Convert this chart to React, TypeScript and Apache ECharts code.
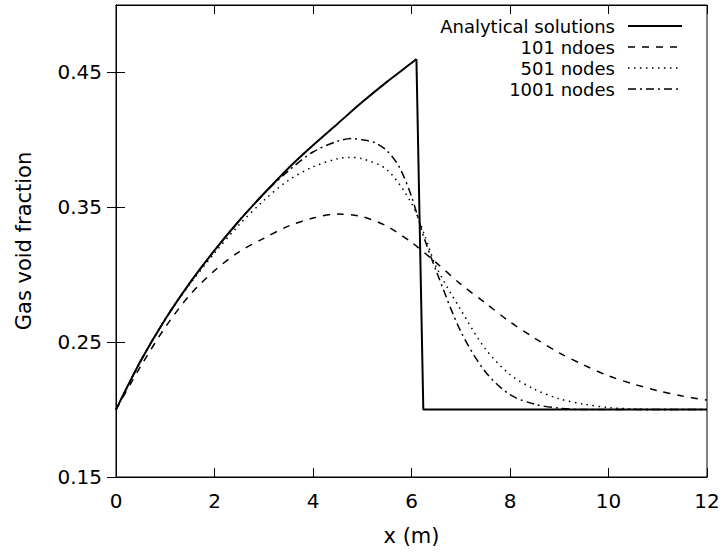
import React, { useEffect, useRef } from "react";
import * as echarts from "echarts";

const xTicks = [0, 2, 4, 6, 8, 10, 12];
const yTicks = [0.15, 0.25, 0.35, 0.45];

// Analytical solution: smooth rising branch, then the shock drop and the flat part
const anaX = [0, 0.5, 1, 1.5, 2, 2.5, 3, 3.5, 4, 4.5, 5, 5.5, 6, 6.1, 6.24, 12];
const anaY = [0.2, 0.236, 0.267, 0.294, 0.318, 0.34, 0.36, 0.379, 0.396, 0.412, 0.428, 0.443, 0.457, 0.46, 0.2, 0.2];
const anaSmoothCount = 14; // points of the smooth rising branch

const n101X = [0, 0.5, 1, 1.5, 2, 2.5, 3, 3.5, 4, 4.5, 5, 5.5, 6, 6.5, 7, 7.5, 8, 8.5, 9, 9.5, 10, 10.5, 11, 11.5, 12];
const n101Y = [0.2, 0.232, 0.261, 0.285, 0.303, 0.317, 0.327, 0.336, 0.342, 0.345, 0.343, 0.336, 0.324, 0.309, 0.293, 0.279, 0.265, 0.253, 0.242, 0.233, 0.225, 0.219, 0.214, 0.21, 0.207];

const n501X = [0, 0.5, 1, 1.5, 2, 2.5, 3, 3.5, 4, 4.5, 4.75, 5, 5.5, 6, 6.25, 6.5, 7, 7.5, 8, 8.5, 9, 9.5, 10, 10.5, 11, 12];
const n501Y = [0.2, 0.236, 0.267, 0.293, 0.316, 0.337, 0.355, 0.37, 0.38, 0.386, 0.387, 0.386, 0.378, 0.353, 0.331, 0.306, 0.274, 0.245, 0.226, 0.215, 0.208, 0.204, 0.2015, 0.2005, 0.2, 0.2];

const n1001X = [0, 0.5, 1, 1.5, 2, 2.5, 3, 3.5, 4, 4.5, 4.8, 5, 5.25, 5.5, 5.75, 6, 6.25, 6.5, 7, 7.5, 8, 8.5, 9, 9.5, 12];
const n1001Y = [0.2, 0.236, 0.267, 0.294, 0.318, 0.34, 0.36, 0.377, 0.391, 0.399, 0.401, 0.4, 0.398, 0.392, 0.38, 0.358, 0.328, 0.303, 0.258, 0.228, 0.211, 0.204, 0.201, 0.2, 0.2];

const legendNames = ["Analytical solutions", "101 ndoes", "501 nodes", "1001 nodes"];

const pairs = (xs: number[], ys: number[]) => xs.map((x, i) => [x, ys[i]]);

const FONT = "DejaVu Sans";

export default function App() {
  const ref = useRef<HTMLDivElement>(null);
  useEffect(() => {
    if (!ref.current) return;
    const chart = echarts.init(ref.current, null, { renderer: "svg" });
    const styles = [
      { width: 2, type: "solid" as any },
      { width: 1.5, type: [7, 7] as any },
      { width: 1.5, type: [1.5, 4.5] as any },
      { width: 1.5, type: [8, 4, 2, 4] as any },
    ];
    const ana = pairs(anaX, anaY);
    const anaRise = ana.slice(0, anaSmoothCount);
    const anaRest = ana.slice(anaSmoothCount - 1);
    const legendRows = [26, 47, 68, 89];
    const graphics: any[] = [];
    legendNames.forEach((name, i) => {
      graphics.push({
        type: "text",
        x: 615,
        y: legendRows[i],
        style: {
          text: name,
          font: `18px "${FONT}"`,
          fill: "#000",
          align: "right",
          verticalAlign: "middle",
        },
      });
      graphics.push({
        type: "line",
        shape: { x1: 628, y1: legendRows[i], x2: 682, y2: legendRows[i] },
        style: {
          stroke: "#000",
          lineWidth: styles[i].width,
          lineDash: styles[i].type === "solid" ? null : styles[i].type,
        },
      });
    });
    const axisCommon = {
      axisLine: { show: true, lineStyle: { color: "#000", width: 1 } },
      splitLine: { show: false },
    };
    const tick = { show: true, inside: true, length: 9, lineStyle: { color: "#000" } };
    const mkSeries = (name: string, data: number[][], i: number, smooth: any, z: number) => ({
      type: "line",
      name,
      data,
      xAxisIndex: 0,
      yAxisIndex: 0,
      showSymbol: false,
      symbol: "none",
      smooth,
      lineStyle: { color: "#000", width: styles[i].width, type: styles[i].type },
      clip: true,
      z,
    });
    chart.setOption({
      animation: false,
      backgroundColor: "#fff",
      grid: {
        left: 116,
        right: 18,
        top: 5,
        bottom: 78,
        show: true,
        borderColor: "#000",
        borderWidth: 1,
      },
      xAxis: [
        {
          type: "value",
          min: 0,
          max: 12,
          interval: 2,
          position: "bottom",
          name: "x (m)",
          nameLocation: "middle",
          nameGap: 48,
          nameTextStyle: { fontFamily: FONT, fontSize: 21, color: "#000" },
          ...axisCommon,
          axisTick: tick,
          axisLabel: { fontFamily: FONT, fontSize: 20, color: "#000", margin: 14 },
        },
        {
          type: "value",
          min: 0,
          max: 12,
          interval: 2,
          position: "top",
          ...axisCommon,
          axisTick: tick,
          axisLabel: { show: false },
        },
      ],
      yAxis: [
        {
          type: "value",
          min: 0.15,
          max: 0.5,
          position: "left",
          name: "Gas void fraction",
          nameLocation: "middle",
          nameGap: 82,
          nameTextStyle: { fontFamily: FONT, fontSize: 21, color: "#000" },
          ...axisCommon,
          axisTick: { ...tick, customValues: yTicks },
          axisLabel: {
            fontFamily: FONT,
            fontSize: 20,
            color: "#000",
            margin: 14,
            customValues: yTicks,
            formatter: (v: number) => v.toFixed(2),
          },
        },
        {
          type: "value",
          min: 0.15,
          max: 0.5,
          position: "right",
          ...axisCommon,
          axisTick: { ...tick, customValues: yTicks },
          axisLabel: { show: false },
        },
      ],
      series: [
        mkSeries(legendNames[0], anaRise, 0, 0.3, 4),
        mkSeries(legendNames[0], anaRest, 0, false, 4),
        mkSeries(legendNames[1], pairs(n101X, n101Y), 1, 0.3, 3),
        mkSeries(legendNames[2], pairs(n501X, n501Y), 2, 0.3, 2),
        mkSeries(legendNames[3], pairs(n1001X, n1001Y), 3, 0.3, 1),
      ],
      graphic: graphics,
    });
    return () => chart.dispose();
  }, []);
  return (
    <div
      ref={ref}
      style={{ width: 725, height: 555, position: "fixed", left: 0, top: 0 }}
    />
  );
}
